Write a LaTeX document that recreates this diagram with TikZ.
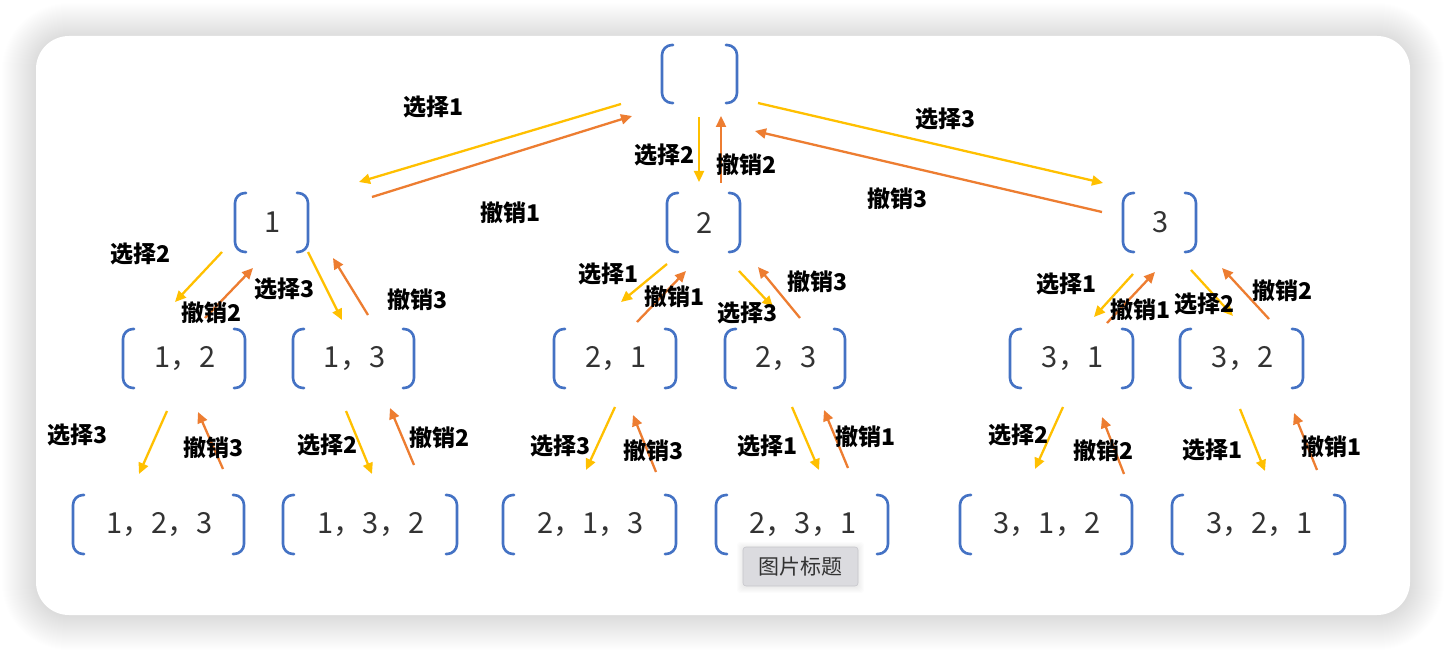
\documentclass[tikz,border=0pt]{standalone}
\usepackage{fontspec}
\newfontfamily\cjk{Noto Sans CJK SC}
\usetikzlibrary{arrows.meta}
\definecolor{brblue}{HTML}{4472C4}
\definecolor{selc}{HTML}{FFC000}
\definecolor{undoc}{HTML}{ED7D31}
\definecolor{capfill}{HTML}{DBDBDF}
\definecolor{capdraw}{HTML}{C6C6CB}
\tikzset{
  numtext/.style={font=\cjk\fontsize{29}{29}\selectfont, text=black!80, inner sep=0pt},
  bracket/.style={draw=brblue, line width=2.6pt, rounded corners=10pt, line cap=round},
  sel/.style={draw=selc, line width=2.3pt, -{Triangle[length=11pt,width=10pt]}},
  undo/.style={draw=undoc, line width=2.3pt, -{Triangle[length=11pt,width=10pt]}},
  lab/.style={font=\cjk\bfseries\fontsize{23}{23}\selectfont, text=black, inner sep=0pt},
  caption/.style={font=\cjk\fontsize{21}{21}\selectfont, text=black!80, fill=capfill, draw=capdraw, line width=0.6pt, rounded corners=3pt, minimum width=115pt, minimum height=39pt, inner sep=0pt}
}
\newcommand\BrNode[6]{%
  \node[numtext] (#1) at ({(#2+#3)/2+1},{(#4+#5)/2}) {#6};
  \draw[bracket] (#2+11,#4) -- (#2,#4) -- (#2,#5) -- (#2+11,#5);
  \draw[bracket] (#3-11,#4) -- (#3,#4) -- (#3,#5) -- (#3-11,#5);
}
\begin{document}
\begin{tikzpicture}[x=1pt,y=-1pt]
\useasboundingbox (0,0) rectangle (1446,652);
\fill[white] (0,0) rectangle (1446,652);
% card shadow
\foreach \i [evaluate=\i as \r using 33+\i] in {1,...,34}{
  \fill[black, opacity=0.0042, rounded corners=\r pt] (36-\i,37-\i) rectangle (1410+\i,616+\i);
}
\fill[white, rounded corners=33pt] (36,36) rectangle (1410,615);

% nodes
\BrNode{root}{662}{737}{45}{103}{}
\BrNode{n1}{235}{308}{193}{252}{1}
\BrNode{n2}{667}{740}{193}{252}{2}
\BrNode{n3}{1123}{1196}{193}{252}{3}
\BrNode{n12}{123}{245}{329}{388}{1，2}
\BrNode{n13}{293}{414}{329}{388}{1，3}
\BrNode{n21}{554}{676}{329}{388}{2，1}
\BrNode{n23}{725}{845}{329}{388}{2，3}
\BrNode{n31}{1010}{1133}{329}{388}{3，1}
\BrNode{n32}{1180}{1303}{329}{388}{3，2}
\BrNode{n123}{73}{244}{495}{554}{1，2，3}
\BrNode{n132}{283}{457}{495}{554}{1，3，2}
\BrNode{n213}{503}{676}{495}{554}{2，1，3}
\BrNode{n231}{716}{888}{495}{554}{2，3，1}
\BrNode{n312}{960}{1132}{495}{554}{3，1，2}
\BrNode{n321}{1172}{1345}{495}{554}{3，2，1}

% choose arrows
\draw[sel] (621,104) -- (359,182);
\draw[sel] (699,117) -- (699,182);
\draw[sel] (758,103) -- (1103,183);
\draw[sel] (222,252) -- (175,302);
\draw[sel] (308,252) -- (342,320);
\draw[sel] (667,264) -- (621,302);
\draw[sel] (739,271) -- (773,307);
\draw[sel] (1133,274) -- (1094,317);
\draw[sel] (1191,270) -- (1233,316);
\draw[sel] (167,411) -- (139,474);
\draw[sel] (346,411) -- (372,474);
\draw[sel] (615,407) -- (586,470);
\draw[sel] (792,407) -- (819,470);
\draw[sel] (1063,407) -- (1035,469);
\draw[sel] (1240,409) -- (1265,471);
% undo arrows
\draw[undo] (372,197) -- (632,116);
\draw[undo] (721,183) -- (721,116);
\draw[undo] (1102,212) -- (755,131);
\draw[undo] (205,318) -- (253,268);
\draw[undo] (368,315) -- (333,258);
\draw[undo] (637,322) -- (686,271);
\draw[undo] (800,318) -- (758,267);
\draw[undo] (1107,323) -- (1155,272);
\draw[undo] (1269,319) -- (1222,268);
\draw[undo] (223,469) -- (198,412);
\draw[undo] (414,465) -- (390,408);
\draw[undo] (656,472) -- (633,415);
\draw[undo] (848,468) -- (824,410);
\draw[undo] (1124,474) -- (1102,417);
\draw[undo] (1317,470) -- (1294,413);

% labels
\node[lab] (a1) at (433,107) {选择1};
\node[lab] (b1) at (510,213) {撤销1};
\node[lab] (a2) at (664,155) {选择2};
\node[lab] (b2) at (746,165) {撤销2};
\node[lab] (a3) at (945,119) {选择3};
\node[lab] (b3) at (897,199) {撤销3};

\node[lab] (a12) at (141,254) {选择2};
\node[lab] (b12) at (212,313) {撤销2};
\node[lab] (a13) at (285,289) {选择3};
\node[lab] (b13) at (417,300) {撤销3};
\node[lab] (a21) at (608,274) {选择1};
\node[lab] (b21) at (674,297) {撤销1};
\node[lab] (a23) at (747,313) {选择3};
\node[lab] (b23) at (817,282) {撤销3};
\node[lab] (a31) at (1066,284) {选择1};
\node[lab] (b31) at (1140,310) {撤销1};
\node[lab] (a32) at (1204,304) {选择2};
\node[lab] (b32) at (1282,291) {撤销2};

\node[lab] (a123) at (78,435) {选择3};
\node[lab] (b123) at (214,448) {撤销3};
\node[lab] (a132) at (328,445) {选择2};
\node[lab] (b132) at (439,438) {撤销2};
\node[lab] (a213) at (560,446) {选择3};
\node[lab] (b213) at (653,451) {撤销3};
\node[lab] (a231) at (767,446) {选择1};
\node[lab] (b231) at (865,437) {撤销1};
\node[lab] (a312) at (1018,435) {选择2};
\node[lab] (b312) at (1103,451) {撤销2};
\node[lab] (a321) at (1212,450) {选择1};
\node[lab] (b321) at (1331,447) {撤销1};

% caption
\foreach \i in {1,...,6}{
  \fill[black, opacity=0.01, rounded corners=3pt] (743-\i,548-\i) rectangle (858+\i,587+\i);
}
\node[caption] (cap) at (800.5,566.5) {图片标题};
\end{tikzpicture}
\end{document}
